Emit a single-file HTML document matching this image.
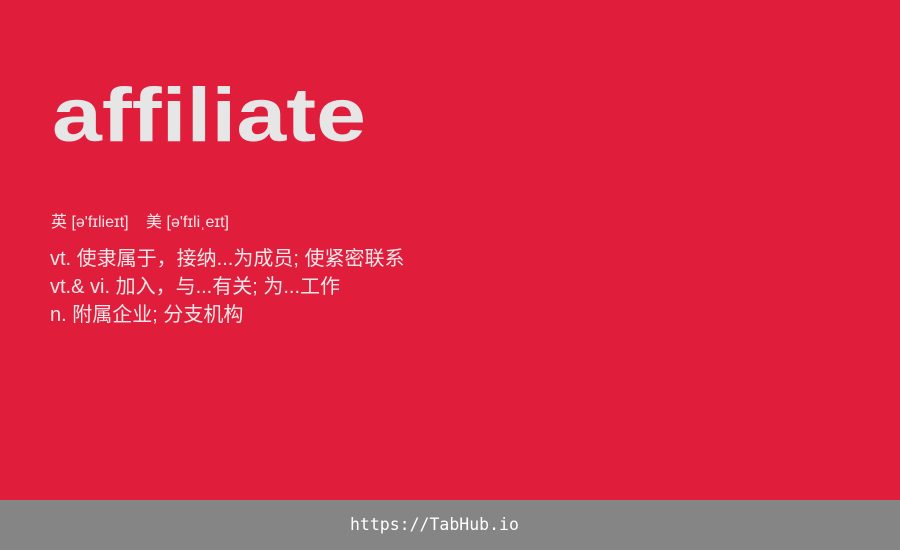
<!DOCTYPE html>
<html><head><meta charset="utf-8"><style>
html,body{margin:0;padding:0}
body{width:900px;height:550px;background:#e01e3c;position:relative;overflow:hidden;font-family:"Liberation Sans","Noto Sans CJK SC",sans-serif;color:#f0e6e8}
#word{position:absolute;left:52px;top:66px;font-size:76px;font-weight:bold;letter-spacing:0;color:#e6e6e6;line-height:100px;transform:scaleX(1.18);transform-origin:0 0}
#phon{position:absolute;left:51px;top:213px;font-size:16px;line-height:20px;color:#f2e6e8}
#phon span{margin-right:13px}
#defs{position:absolute;left:50px;top:245px;font-size:20px;line-height:28px;color:#f2e6e8}
#footer{position:absolute;left:0;top:500px;width:900px;height:50px;background:#858585}
#url{position:absolute;left:350px;top:0;color:#fff;font-family:"DejaVu Sans Mono","Liberation Mono",monospace;font-size:16.5px;line-height:50px}
</style></head><body>
<div id="word">affiliate</div>
<div id="phon"><span>英 [ə'fɪlieɪt]</span> <span>美 [ə'fɪliˌeɪt]</span></div>
<div id="defs">
<div>vt. 使隶属于，接纳...为成员; 使紧密联系</div>
<div>vt.&amp; vi. 加入，与...有关; 为...工作</div>
<div>n. 附属企业; 分支机构</div>
</div>
<div id="footer"><span id="url">https://TabHub.io</span></div>
</body></html>
